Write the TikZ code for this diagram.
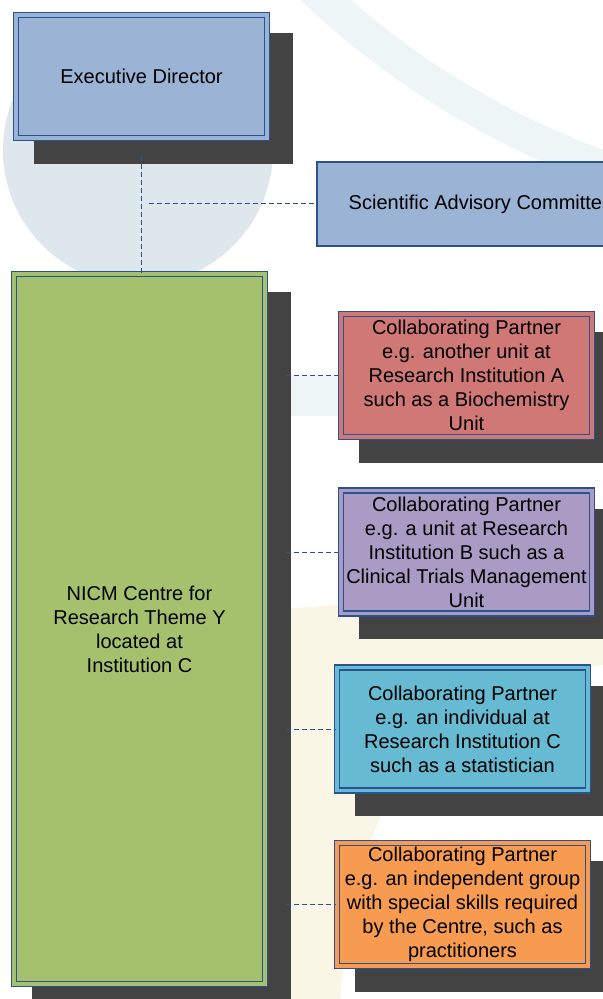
\documentclass[tikz,border=0pt]{standalone}
\usepackage{fontspec}
\setmainfont{Liberation Sans}
\usetikzlibrary{calc,backgrounds}
\definecolor{headblue}{HTML}{9BB3D5}
\definecolor{rimblue}{HTML}{2A5290}
\definecolor{shadowgray}{HTML}{434343}
\definecolor{themegreen}{HTML}{A5C16D}
\definecolor{partnerred}{HTML}{D07876}
\definecolor{partnerpurple}{HTML}{A99BC3}
\definecolor{partnercyan}{HTML}{66BAD1}
\definecolor{partnerorange}{HTML}{F69B4F}
\definecolor{markblue}{HTML}{DDE7EC}
\definecolor{markband}{HTML}{EEF5F7}
\definecolor{markyellow}{HTML}{F9F6E6}
\tikzset{%
  unitbox/.style  = {shape=rectangle, draw=rimblue, line width=0.85pt,%
                     double distance=1.6pt, align=center, inner sep=0pt,%
                     minimum width=125.5pt, minimum height=61.5pt,%
                     font=\fontsize{10}{12}\selectfont},%
  head/.style     = {unitbox, fill=headblue, double=headblue},%
  theme/.style    = {unitbox, fill=themegreen, double=themegreen,%
                     minimum height=355pt},%
  partner/.style  = {unitbox, fill=#1, double=#1},%
  committee/.style= {shape=rectangle, draw=rimblue, line width=0.8pt,%
                     fill=headblue, inner sep=0pt, minimum width=164pt,%
                     minimum height=42pt, font=\fontsize{10}{12}\selectfont},%
  shade/.style    = {fill=shadowgray},%
  link/.style     = {draw=rimblue, line width=0.5pt,%
                     dash pattern=on 2.5pt off 1.5pt}%
}

\begin{document}
\begin{tikzpicture}[x=0.5pt, y=-0.5pt]
  \useasboundingbox (0,0) rectangle (603,999);
  \clip (0,0) rectangle (603,999);
  % faint logo behind the chart
  \begin{scope}[on background layer]
    \fill[white] (0,0) rectangle (603,999);
    \fill[markblue] (138,150) circle [radius=135];
    \draw[markband, line width=17pt] (889,-620) circle [radius=838];
    \fill[markband] (268,376) rectangle (603,416);
    \fill[markyellow] (268,610) .. controls (400,600) .. (603,590) -- (603,665)
      .. controls (450,690) and (360,760) .. (340,999) -- (268,999) -- cycle;
  \end{scope}

  \node[head] (ed) at (141.5,76.5) {Executive Director};
  \node[committee] (sac) at (481,204) {Scientific Advisory Committee};
  \node[theme] (theme) at (139.5,629)
    {NICM Centre for\\Research Theme Y\\located at\\Institution C};

  \node[partner=partnerred] (pa) at (466.5,375.5)
    {Collaborating Partner\\e.g. another unit at\\Research Institution A\\such as a Biochemistry\\Unit};
  \node[partner=partnerpurple] (pb) at (466.5,552)
    {Collaborating Partner\\e.g. a unit at Research\\Institution B such as a\\Clinical Trials Management\\Unit};
  \node[partner=partnercyan] (pc) at (462.5,729)
    {Collaborating Partner\\e.g. an individual at\\Research Institution C\\such as a statistician};
  \node[partner=partnerorange] (pd) at (462.5,904.5)
    {Collaborating Partner\\e.g. an independent group\\with special skills required\\by the Centre, such as\\practitioners};

  \begin{scope}[on background layer]
    \foreach \n in {ed,theme,pa,pb,pc,pd}
      \fill[shade] ($(\n.south west)+(19,25)$) rectangle ($(\n.north east)+(25,19)$);
  \end{scope}

  \draw[link, shorten <=8.5pt] (ed.south) -- (ed.south |- theme.north);
  \draw[link, shorten <=3.5pt] (ed.south |- sac.west) -- (sac.west);
  \foreach \n in {pa,pb,pc,pd}
    \draw[link, shorten <=10pt] (theme.east |- \n.west) -- (\n.west);
\end{tikzpicture}
\end{document}
